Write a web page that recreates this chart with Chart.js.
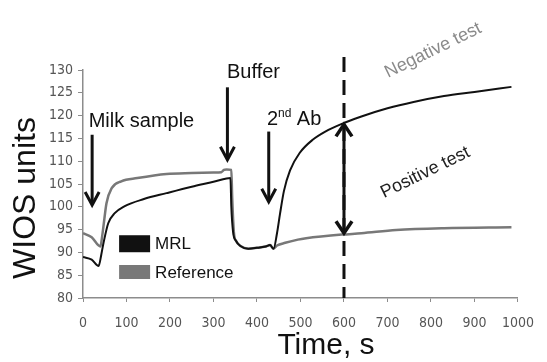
<!DOCTYPE html>
<html>

<head>
    <meta charset="utf-8">
    <title>WIOS</title>
    <script src="https://cdn.jsdelivr.net/npm/chart.js@4.4.0/dist/chart.umd.min.js"></script>
    <style>
        body { margin: 0; background: #fff; }
        #wrap { width: 547px; height: 362px; }
    </style>
</head>

<body>
    <div id="wrap">
        <canvas id="myChart"></canvas>
    </div>
    <script>
        // data
        const mrlTime = [0, 20, 36, 42, 47, 58, 73, 95, 140, 192, 250, 300, 330, 339, 341, 345, 352, 362, 380, 400, 420, 430, 438, 446, 453, 462, 476, 498, 528, 557, 595, 640, 700, 760, 830, 900, 985];
        const mrlValue = [89.0, 88.4, 87.0, 89.5, 92.0, 96.4, 98.6, 100.1, 101.7, 103.0, 104.4, 105.5, 106.2, 106.3, 100.0, 94.5, 92.5, 91.4, 90.8, 91.0, 91.3, 91.6, 90.8, 94.2, 98.5, 103.5, 108.0, 111.8, 114.7, 116.5, 118.2, 119.8, 121.6, 123.0, 124.3, 125.2, 126.3];

        const refTime = [0, 20, 40, 44, 47, 54, 66, 88, 125, 192, 250, 300, 318, 324, 330, 341, 343, 347, 352, 362, 380, 400, 420, 430, 438, 446, 465, 494, 513, 595, 640, 720, 830, 985];
        const refValue = [94.2, 93.3, 91.3, 93.5, 95.7, 100.8, 104.1, 105.6, 106.3, 107.2, 107.4, 107.5, 107.6, 108.1, 108.2, 108.1, 102.0, 94.3, 92.5, 91.4, 90.8, 91.0, 91.3, 91.6, 90.8, 91.5, 92.1, 92.8, 93.1, 93.9, 94.2, 94.9, 95.3, 95.5];

        const seriesNames = ['MRL', 'Reference'];
        const xTicks = [0, 100, 200, 300, 400, 500, 600, 700, 800, 900, 1000];
        const yTicks = [80, 85, 90, 95, 100, 105, 110, 115, 120, 125, 130];

        // injection arrows: time, start value, tip value
        const injections = [
            { label: 'Milk sample', t: 21, from: 115.8, to: 100.4, textT: 13, textV: 118.7 },
            { label: 'Buffer', t: 332, from: 126.2, to: 110.3, textT: 331, textV: 129.5 },
            { label: '2nd Ab', t: 427, from: 116.5, to: 101.1, textT: 423, textV: 119.1 }
        ];
        const readTime = 600;

        const BLACK = '#111';
        const GREY = '#787878';
        const FONT = '"Liberation Sans", Arial, sans-serif';

        function toPoints(ts, vs) {
            return ts.map((t, i) => ({ x: t, y: vs[i] }));
        }

        function arrowHead(ctx, x, y, dir, w, h) {
            ctx.beginPath();
            ctx.moveTo(x - w / 2, y - dir * h);
            ctx.lineTo(x, y);
            ctx.lineTo(x + w / 2, y - dir * h);
            ctx.stroke();
        }

        const annotate = {
            id: 'annotate',
            afterDraw(chart) {
                const { ctx, scales: { x, y } } = chart;
                ctx.save();
                ctx.lineCap = 'butt';
                ctx.lineJoin = 'miter';

                // dashed read line
                const xr = x.getPixelForValue(readTime);
                ctx.strokeStyle = BLACK;
                ctx.lineWidth = 3;
                ctx.setLineDash([15, 8]);
                ctx.beginPath();
                ctx.moveTo(xr, 57);
                ctx.lineTo(xr, y.getPixelForValue(80));
                ctx.stroke();
                ctx.setLineDash([]);

                // double arrow between the two curves
                const yTop = y.getPixelForValue(118.3);
                const yBot = y.getPixelForValue(94.0);
                ctx.beginPath();
                ctx.moveTo(xr, yTop + 2);
                ctx.lineTo(xr, yBot - 2);
                ctx.stroke();
                ctx.lineWidth = 3.5;
                arrowHead(ctx, xr, yTop + 1, -1, 16, 12);
                arrowHead(ctx, xr, yBot - 1, 1, 16, 12);

                // injection arrows and labels
                ctx.fillStyle = BLACK;
                ctx.textBaseline = 'middle';
                ctx.textAlign = 'left';
                injections.forEach(a => {
                    const ax = x.getPixelForValue(a.t);
                    const y1 = y.getPixelForValue(a.from);
                    const y2 = y.getPixelForValue(a.to);
                    ctx.lineWidth = 3;
                    ctx.beginPath();
                    ctx.moveTo(ax, y1);
                    ctx.lineTo(ax, y2 - 2);
                    ctx.stroke();
                    arrowHead(ctx, ax, y2, 1, 14, 13);

                    const tx = x.getPixelForValue(a.textT);
                    const ty = y.getPixelForValue(a.textV);
                    if (a.label === '2nd Ab') {
                        ctx.font = '20px ' + FONT;
                        ctx.fillText('2', tx, ty);
                        let w = ctx.measureText('2').width;
                        ctx.font = '12px ' + FONT;
                        ctx.fillText('nd', tx + w, ty - 6);
                        w += ctx.measureText('nd ').width;
                        ctx.font = '20px ' + FONT;
                        ctx.fillText('Ab', tx + w + 2, ty);
                    } else {
                        ctx.font = '20px ' + FONT;
                        ctx.fillText(a.label, tx, ty);
                    }
                });

                // rotated test labels
                ctx.textAlign = 'center';
                ctx.font = '18px ' + FONT;
                ctx.save();
                ctx.translate(x.getPixelForValue(805), y.getPixelForValue(134.3));
                ctx.rotate(-26 * Math.PI / 180);
                ctx.fillStyle = '#8a8a8a';
                ctx.fillText('Negative test', 0, 0);
                ctx.restore();
                ctx.save();
                ctx.translate(x.getPixelForValue(787), y.getPixelForValue(107.5));
                ctx.rotate(-26 * Math.PI / 180);
                ctx.fillStyle = '#222';
                ctx.fillText('Positive test', 0, 0);
                ctx.restore();

                // legend inside the plot
                const lx = x.getPixelForValue(83);
                const lw = 31;
                const legendRows = [[seriesNames[0], BLACK, 91.9, 17], [seriesNames[1], GREY, 85.7, 14]];
                ctx.textAlign = 'left';
                ctx.font = '17px ' + FONT;
                legendRows.forEach(([name, col, v, h]) => {
                    const cy = y.getPixelForValue(v);
                    ctx.fillStyle = col;
                    ctx.fillRect(lx, cy - h / 2, lw, h);
                    ctx.fillStyle = BLACK;
                    ctx.fillText(name, lx + lw + 5, cy + 1);
                });

                // axis titles
                ctx.fillStyle = BLACK;
                ctx.textAlign = 'center';
                ctx.font = '30px ' + FONT;
                ctx.fillText('Time, s', 326, 346);
                ctx.save();
                ctx.translate(26, 198);
                ctx.rotate(-Math.PI / 2);
                ctx.font = '32px ' + FONT;
                ctx.fillText('WIOS units', 0, 0);
                ctx.restore();

                ctx.restore();
            }
        };

        const data = {
            datasets: [
                {
                    label: seriesNames[0],
                    data: toPoints(mrlTime, mrlValue),
                    borderColor: BLACK,
                    borderWidth: 2,
                    pointRadius: 0,
                    cubicInterpolationMode: 'monotone',
                    fill: false
                },
                {
                    label: seriesNames[1],
                    data: toPoints(refTime, refValue),
                    borderColor: GREY,
                    borderWidth: 2.5,
                    pointRadius: 0,
                    cubicInterpolationMode: 'monotone',
                    fill: false
                }
            ]
        };

        const tickFont = { family: '"Liberation Sans Narrow", "DejaVu Sans Condensed", sans-serif', size: 14 };

        const config = {
            type: 'line',
            data: data,
            options: {
                responsive: true,
                maintainAspectRatio: false,
                animation: false,
                layout: { padding: { top: 70, right: 16, left: 0, bottom: 0 } },
                plugins: {
                    legend: { display: false },
                    tooltip: { enabled: false }
                },
                scales: {
                    x: {
                        type: 'linear',
                        min: 0,
                        max: 1000,
                        afterBuildTicks: s => { s.ticks = xTicks.map(v => ({ value: v })); },
                        afterFit: s => { s.height = 64; },
                        border: { color: '#8c8c8c', width: 1.5 },
                        grid: { drawOnChartArea: false, color: '#8c8c8c', tickLength: 4 },
                        ticks: { color: '#555', font: tickFont, padding: 13, maxRotation: 0, callback: v => String(v) }
                    },
                    y: {
                        min: 80,
                        max: 130,
                        afterBuildTicks: s => { s.ticks = yTicks.map(v => ({ value: v })); },
                        afterFit: s => { s.width = 83; },
                        border: { color: '#8c8c8c', width: 1.5 },
                        grid: { drawOnChartArea: false, color: '#8c8c8c', tickLength: 5 },
                        ticks: { color: '#555', font: tickFont, padding: 5, callback: v => String(v) }
                    }
                }
            },
            plugins: [annotate]
        };

        const myChart = new Chart(document.getElementById('myChart'), config);
    </script>
</body>

</html>
